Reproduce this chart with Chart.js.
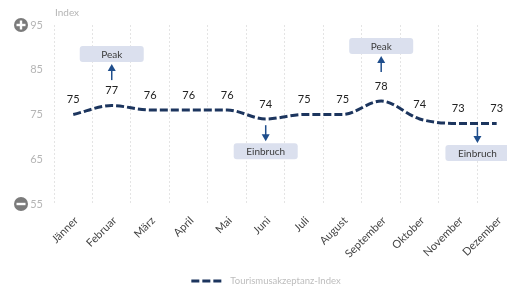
<!DOCTYPE html>
<html><head><meta charset="utf-8">
<script src="https://cdn.jsdelivr.net/npm/chart.js@4.4.0/dist/chart.umd.min.js"></script>
<style>html,body{margin:0;padding:0;overflow:hidden;background:#fff;width:507px;height:287px}canvas{display:block}</style>
</head><body>
<canvas id="c" width="516" height="287"></canvas>
<script>
const categories = ['Jänner','Februar','März','April','Mai','Juni','Juli','August','September','Oktober','November','Dezember'];
const indexValues = [75,77,76,76,76,74,75,75,78,74,73,73];
const yTicks = [55,65,75,85,95];
const seriesLabel = 'Tourismusakzeptanz-Index';
const axisTitle = 'Index';
const annotationTexts = ['Peak','Einbruch','Peak','Einbruch'];
const annotationX = [1,5,8,10.5];
const annotationY = [88.5,66.8,90.3,66.4];
const annotationDir = ['up','down','up','down'];

const FONT = 'Lato, "Open Sans", sans-serif';
const LINE_COLOR = '#1c355e';

const overlay = {
  id:'overlay',
  afterDatasetsDraw(chart){
    const ctx = chart.ctx, x = chart.scales.x, y = chart.scales.y, ca = chart.chartArea;
    ctx.save();
    ctx.fillStyle = '#b5b5b5'; ctx.font = '10px ' + FONT;
    ctx.textAlign = 'left'; ctx.textBaseline = 'middle';
    ctx.fillText(axisTitle, ca.left + 1, ca.top - 12);
    [[yTicks[yTicks.length-1], true],[yTicks[0], false]].forEach(([v, plus])=>{
      const cy = y.getPixelForValue(v), cx = 21;
      ctx.beginPath(); ctx.arc(cx, cy, 7, 0, Math.PI*2); ctx.fillStyle = '#7b7b7b'; ctx.fill();
      ctx.fillStyle = '#fff';
      ctx.fillRect(cx-4.5, cy-1.2, 9, 2.4);
      if (plus) ctx.fillRect(cx-1.2, cy-4.5, 2.4, 9);
    });
    const meta = chart.getDatasetMeta(0);
    ctx.fillStyle = '#222'; ctx.font = '11px ' + FONT; ctx.textAlign = 'center'; ctx.textBaseline = 'middle';
    meta.data.forEach((pt, i)=>{ ctx.fillText(String(indexValues[i]), pt.x, pt.y - 15); });
    annotationTexts.forEach((t, i)=>{
      const cx = x.getPixelForValue(annotationX[i]);
      const cy = y.getPixelForValue(annotationY[i]);
      const w = 64, h = 16;
      ctx.beginPath();
      ctx.roundRect(cx - w/2, cy - h/2, w, h, 3);
      ctx.fillStyle = '#dbe0ee'; ctx.fill();
      ctx.fillStyle = '#3a3a3a'; ctx.font = '10px ' + FONT; ctx.textAlign='center'; ctx.textBaseline='middle';
      ctx.fillText(t, cx, cy + 0.5);
      let tip, tail;
      if (annotationDir[i] === 'up') { tip = cy + h/2 + 2; tail = tip + 16; }
      else { tip = cy - h/2 - 2; tail = tip - 16; }
      const s = annotationDir[i] === 'up' ? 1 : -1;
      ctx.strokeStyle = '#1f4e8c'; ctx.fillStyle = '#1f4e8c'; ctx.lineWidth = 1.5;
      ctx.beginPath(); ctx.moveTo(cx, tail); ctx.lineTo(cx, tip + s*5); ctx.stroke();
      ctx.beginPath(); ctx.moveTo(cx, tip); ctx.lineTo(cx - 4, tip + s*7); ctx.lineTo(cx + 4, tip + s*7); ctx.closePath(); ctx.fill();
    });
    ctx.font = '9.5px ' + FONT;
    const tw = ctx.measureText(seriesLabel).width;
    const lw = 32, gap = 7, total = lw + gap + tw;
    const lx = chart.width/2 + 8 - total/2, ly = chart.height - 6;
    ctx.strokeStyle = LINE_COLOR; ctx.lineWidth = 3; ctx.setLineDash([8,3]);
    ctx.beginPath(); ctx.moveTo(lx, ly); ctx.lineTo(lx + lw, ly); ctx.stroke();
    ctx.setLineDash([]);
    ctx.fillStyle = '#bdbdbd'; ctx.textAlign = 'left'; ctx.textBaseline = 'middle';
    ctx.fillText(seriesLabel, lx + lw + gap, ly);
    ctx.restore();
  }
};

new Chart(document.getElementById('c'), {
  type:'line',
  data:{ labels: categories, datasets:[{
    label: seriesLabel, data: indexValues,
    borderColor:LINE_COLOR, backgroundColor:LINE_COLOR, borderWidth:3, borderDash:[8,3],
    cubicInterpolationMode:'monotone', pointRadius:0, fill:false
  }]},
  options:{
    responsive:false, animation:false,
    layout:{ padding:{ top:25, left:0, right:0, bottom:10 } },
    plugins:{ tooltip:{enabled:false}, legend:{display:false} },
    scales:{
      x:{ offset:true, grid:{ offset:true, color:'#e4e4e4', drawTicks:false }, border:{display:false, dash:[2,2]},
          afterFit(s){ s.height = 73; },
          ticks:{ color:'#444', font:{size:11, family:FONT}, minRotation:45, maxRotation:45, padding:10, labelOffset:3 } },
      y:{ min:55, max:95, grid:{display:false, drawTicks:false}, border:{display:false},
          afterFit(s){ s.width = 54; },
          afterBuildTicks(s){ s.ticks = yTicks.map(v=>({value:v})); },
          ticks:{ color:'#b5b5b5', font:{size:11, family:FONT}, padding:11 } }
    }
  },
  plugins:[overlay]
});
</script>
</body></html>
